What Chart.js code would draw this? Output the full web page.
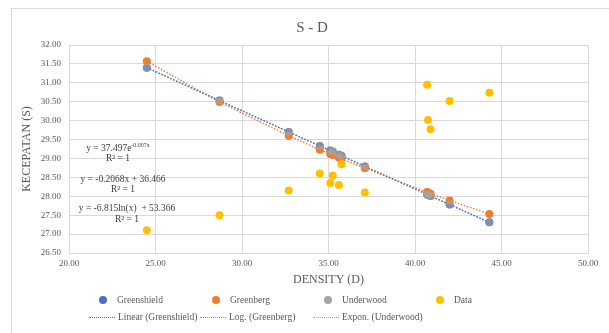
<!DOCTYPE html>
<html>
<head>
<meta charset="utf-8">
<script src="https://cdn.jsdelivr.net/npm/chart.js"></script>
<style>
body { margin:0; background:#fff; overflow:hidden; }
#wrap { position:relative; width:609px; height:333px; overflow:hidden; }
#frame { position:absolute; left:11px; top:8px; width:640px; height:400px; border:1px solid #d9d9d9; }
#myChart { position:absolute; left:0; top:0; }
.leg { position:absolute; font-family:"Liberation Serif", serif; font-size:9.5px; color:#595959; white-space:nowrap; line-height:12px; }
.dot { position:absolute; width:8px; height:8px; border-radius:50%; top:2px; left:0; }
.ln { position:absolute; width:26px; height:0; top:6px; left:0; border-top:1.5px dotted; }
</style>
</head>
<body>
<div id="wrap">
  <div id="frame"></div>
  <canvas id="myChart" width="609" height="333"></canvas>
  <div id="legend"></div>
</div>
<script>
'use strict';

let chartTitle = 'S - D';
let xTitle = 'DENSITY (D)';
let yTitle = 'KECEPATAN (S)';

// density values (x)
let density = [24.5, 28.7, 32.7, 34.5, 35.1, 35.25, 35.6, 35.75, 37.1, 40.7, 40.75, 40.9, 42.0, 44.3];
// observed speed
let speedData = [27.10, 27.50, 28.15, 28.60, 28.35, 28.55, 28.30, 28.85, 28.10, 30.95, 30.02, 29.77, 30.52, 30.74];
// model speeds
let greenshield = [31.40, 30.53, 29.70, 29.33, 29.21, 29.18, 29.10, 29.07, 28.79, 28.05, 28.04, 28.01, 27.78, 27.31];
let greenberg = [31.57, 30.49, 29.60, 29.23, 29.12, 29.09, 29.02, 28.99, 28.74, 28.11, 28.10, 28.07, 27.89, 27.53];
let underwood = [31.40, 30.53, 29.70, 29.33, 29.21, 29.18, 29.10, 29.07, 28.79, 28.05, 28.04, 28.01, 27.78, 27.31];

let seriesNames = ['Greenshield', 'Greenberg', 'Underwood', 'Data'];
let trendNames = ['Linear (Greenshield)', 'Log. (Greenberg)', 'Expon. (Underwood)'];

let eqExpo = ['y = 37.497e', '-0.007x'];
let eqLinear = 'y = -0.2068x + 36.466';
let eqLog = 'y = -6.815ln(x)  + 53.366';
let rSquared = 'R\u00b2 = 1';

let blue = '#4472C4';
let orange = '#ED7D31';
let gray = '#A5A5A5';
let yellow = '#FFC000';
let serif = '"Liberation Serif", serif';

function pts(ys) {
  let out = [];
  for (let i = 0; i < density.length; i++) {
    out.push({ x: density[i], y: ys[i] });
  }
  return out;
}

function pointSet(label, ys, color, order) {
  return {
    label: label,
    data: pts(ys),
    backgroundColor: color,
    borderWidth: 0,
    pointRadius: 4,
    showLine: false,
    order: order
  };
}

function trendSet(label, ys, color) {
  return {
    label: label,
    data: pts(ys),
    borderColor: color,
    borderWidth: 1.3,
    borderDash: [1.6, 1.6],
    pointRadius: 0,
    showLine: true,
    order: 10
  };
}

let textPlugin = {
  id: 'texts',
  afterDraw(chart) {
    let ctx = chart.ctx;
    ctx.save();
    ctx.textBaseline = 'middle';
    ctx.textAlign = 'center';
    ctx.fillStyle = '#595959';
    ctx.font = '15px ' + serif;
    ctx.fillText(chartTitle, 312, 28);

    ctx.fillStyle = '#404040';
    // exponential label with superscript
    ctx.font = '9.5px ' + serif;
    let w1 = ctx.measureText(eqExpo[0]).width;
    ctx.font = '6px ' + serif;
    let w2 = ctx.measureText(eqExpo[1]).width;
    let cx = 118;
    let start = cx - (w1 + w2) / 2;
    ctx.textAlign = 'left';
    ctx.font = '9.5px ' + serif;
    ctx.fillText(eqExpo[0], start, 148);
    ctx.font = '6px ' + serif;
    ctx.fillText(eqExpo[1], start + w1, 145);
    ctx.textAlign = 'center';
    ctx.font = '9.5px ' + serif;
    ctx.fillText(rSquared, cx, 158);

    ctx.fillText(eqLinear, 123, 179);
    ctx.fillText(rSquared, 123, 189);
    ctx.fillText(eqLog, 127, 208);
    ctx.fillText(rSquared, 127, 219);
    ctx.restore();
  }
};

let ctx = document.getElementById('myChart').getContext('2d');
let myChart = new Chart(ctx, {
  type: 'scatter',
  data: {
    datasets: [
      pointSet(seriesNames[0], greenshield, blue, 4),
      pointSet(seriesNames[1], greenberg, orange, 3),
      pointSet(seriesNames[2], underwood, 'rgba(165,165,165,0.6)', 2),
      pointSet(seriesNames[3], speedData, yellow, 1),
      trendSet(trendNames[0], greenshield, blue),
      trendSet(trendNames[1], greenberg, orange),
      trendSet(trendNames[2], underwood, gray)
    ]
  },
  options: {
    responsive: false,
    animation: false,
    layout: { padding: { left: 11, right: 21, top: 45, bottom: 40 } },
    plugins: {
      legend: { display: false },
      title: { display: false },
      tooltip: { enabled: false }
    },
    scales: {
      x: {
        type: 'linear',
        min: 20,
        max: 50,
        afterFit: function (s) { s.height = 40; },
        ticks: {
          stepSize: 5,
          padding: 5,
          color: '#595959',
          font: { family: serif, size: 9 },
          callback: function (v) { return v.toFixed(2); }
        },
        grid: { color: '#d9d9d9', drawTicks: false },
        border: { color: '#d9d9d9' },
        title: {
          display: true,
          text: xTitle,
          color: '#595959',
          font: { family: serif, size: 12 },
          padding: { top: 0, bottom: 6 }
        }
      },
      y: {
        min: 26.5,
        max: 32,
        afterFit: function (s) { s.width = 58; },
        ticks: {
          stepSize: 0.5,
          padding: 8,
          color: '#595959',
          font: { family: serif, size: 9 },
          callback: function (v) { return v.toFixed(2); }
        },
        grid: { color: '#d9d9d9', drawTicks: false },
        border: { color: '#d9d9d9' },
        title: {
          display: true,
          text: yTitle,
          color: '#595959',
          font: { family: serif, size: 12 },
          padding: { top: 9, bottom: 0 }
        }
      }
    }
  },
  plugins: [textPlugin]
});

// legend built from the chart's datasets
let legendPos = [
  { left: 99, top: 294 }, { left: 212, top: 294 }, { left: 324, top: 294 }, { left: 436, top: 294 },
  { left: 89, top: 311 }, { left: 200, top: 311 }, { left: 313, top: 311 }
];
let legendBox = document.getElementById('legend');
myChart.data.datasets.forEach(function (ds, i) {
  let item = document.createElement('div');
  item.className = 'leg';
  item.style.left = legendPos[i].left + 'px';
  item.style.top = legendPos[i].top + 'px';
  let mark = document.createElement('span');
  let label = document.createElement('span');
  label.textContent = ds.label;
  if (ds.showLine) {
    mark.className = 'ln';
    mark.style.borderColor = ds.borderColor;
    label.style.marginLeft = '29px';
  } else {
    mark.className = 'dot';
    mark.style.background = i === 2 ? gray : ds.backgroundColor;
    label.style.marginLeft = '18px';
  }
  item.appendChild(mark);
  item.appendChild(label);
  legendBox.appendChild(item);
});
</script>
</body>
</html>
